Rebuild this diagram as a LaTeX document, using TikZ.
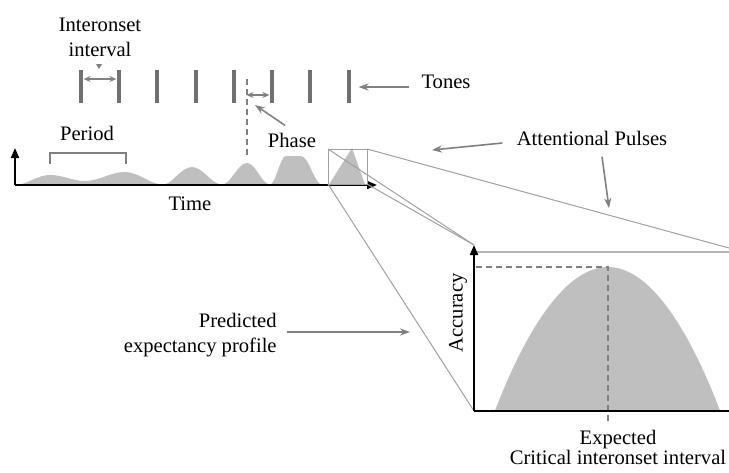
\documentclass[tikz,border=0pt]{standalone}
\usepackage{fontspec}
\setmainfont{Liberation Serif}
\usetikzlibrary{arrows.meta, positioning, calc}

\begin{document}
\begin{tikzpicture}[
    x=0.5pt, y=-0.5pt,
    font=\fontsize{10.3}{12.5}\selectfont,
    tonebar/.style={fill=tonegray, draw=none, minimum width=2.2pt, minimum height=16.5pt, inner sep=0pt},
    pulsefill/.style={fill=pulsegray, draw=none},
    pointer/.style={draw=arrowgray, line width=0.8pt, -{Stealth[length=5pt, width=3.6pt]}},
    gaparrow/.style={draw=arrowgray, line width=0.75pt, {Stealth[length=3.5pt, width=3pt]}-{Stealth[length=3.5pt, width=3pt]}},
    guide/.style={draw=arrowgray, line width=1pt, dash pattern=on 3pt off 2pt},
    zoomline/.style={draw=zoomgray, line width=0.5pt},
    axis/.style={draw=black, line width=1pt, -{Triangle[length=5pt, width=4pt]}},
    label/.style={inner sep=2pt},
]

% ===== Colors =====
\definecolor{tonegray}{RGB}{112,112,112}
\definecolor{pulsegray}{RGB}{191,191,191}
\definecolor{arrowgray}{RGB}{128,128,128}
\definecolor{zoomgray}{RGB}{160,160,160}

% ===== Layout (pixel grid of the figure, y downward) =====
\def\base{184.5}   % baseline of the pulse train

\useasboundingbox (0,0) rectangle (729,472);

% ===== Tones =====
\foreach \i/\x in {1/81, 2/119, 3/157, 4/196, 5/234, 6/272, 7/310, 8/349} {
    \node[tonebar] (t\i) at (\x, 86.5) {};
}

% interonset interval between first two tones
\draw[gaparrow] ([yshift=3.75pt]t1.east) -- ([yshift=3.75pt]t2.west);
\node[label, align=center] (ioi) at (100,37.5) {Interonset\\interval};
\fill[arrowgray] (96,64) -- (102,64) -- (99,69) -- cycle;

% phase: expected onset vs. tone
\coordinate (phasetop) at (246.5,79);
\coordinate (phasebot) at (246.5,157);
\coordinate (phasemark) at (246.5,95);
\draw[guide] (phasetop) -- (phasebot);
\draw[gaparrow] (phasemark) -- (phasemark -| t6.west);

\node[label] (tones) at (446,82) {Tones};
\draw[pointer] ($(tones.west)+(-8,5)$) -- ($(t8.east)+(7,0.5)$);

% ===== Attentional pulses =====
\fill[pulsefill] (15,\base) -- (17,\base)
    cos (33,179.5) sin (50,175) cos (68,178) sin (85,181)
    cos (105,176.5) sin (125,172) cos (144,178) sin (163,\base)
    cos (177,175.5) sin (192,167) cos (207,175.5) sin (222,\base)
    cos (234.5,173.5) sin (247,163) cos (258.5,173.5) sin (270,\base)
    cos (278,170) sin (286,156) -- (301,156) cos (311.5,170) sin (322,\base)
    -- (329,\base) -- (352,148) -- (365,\base) -- cycle;

% period bracket
\draw[draw=arrowgray, line width=0.75pt] (50,164) -- (50,153) -- (126,153) -- (126,164);
\node[label] (period) at (87,133) {Period};

\node[label] (phase) at (292,140) {Phase};
\draw[pointer] ($(phase.north)+(-7,-3)$) -- (255,105);

% main axes
\coordinate (origin) at (15,185);
\draw[axis] (origin) -- (15,148);
\draw[axis] (origin) -- (377,185);
\node[label] (time) at (190,204) {Time};

% ===== Zoom box and zoom lines =====
\coordinate (boxnw) at (328,149);
\coordinate (boxne) at (367,149);
\coordinate (boxsw) at (328,184);
\coordinate (boxse) at (367,184);
\coordinate (accorigin) at (474,411);
\coordinate (acctop) at (474,245);
\coordinate (panelne) at (729,248);
\coordinate (accceil) at (476,252);
\coordinate (panelright) at (729,252);

\draw[zoomline] (boxnw) rectangle (boxse);
\draw[zoomline] (boxne) -- (panelne);
\draw[zoomline] (boxnw) -- (acctop);
\draw[zoomline] (boxse) -- (acctop);
\draw[zoomline] (boxsw) -- (accorigin);
\draw[zoomline, draw=zoomgray!80, line width=0.75pt] (accceil) -- (panelright);

\node[label] (pulses) at (592,138) {Attentional Pulses};
\draw[pointer] ($(pulses.west)+(-10,5)$) -- (432,150);
\draw[pointer] ($(pulses.south)+(10,7)$) -- (609,208);

% ===== Expectancy profile =====
\coordinate (peak) at (608,267);
\fill[pulsefill] (495,410.5) parabola bend (peak) (720,410.5) -- cycle;
\draw[guide] (476,267) -- (peak) -- (608,423);

\draw[axis] (accorigin) -- (acctop);
\draw[line width=1pt] (accorigin) -- (729,411);

\node[label, rotate=90] (accuracy) at (458,313) {Accuracy};
\node[label, align=center, font=\fontsize{10.3}{9.2}\selectfont] (expected) at (618,447.5)
    {Expected\\Critical interonset interval};

\node[label, align=right, anchor=east] (predicted) at (281,335.5) {Predicted\\expectancy profile};
\draw[pointer] ($(predicted.east)+(6,-3.5)$) -- (410,332);

\end{tikzpicture}
\end{document}
